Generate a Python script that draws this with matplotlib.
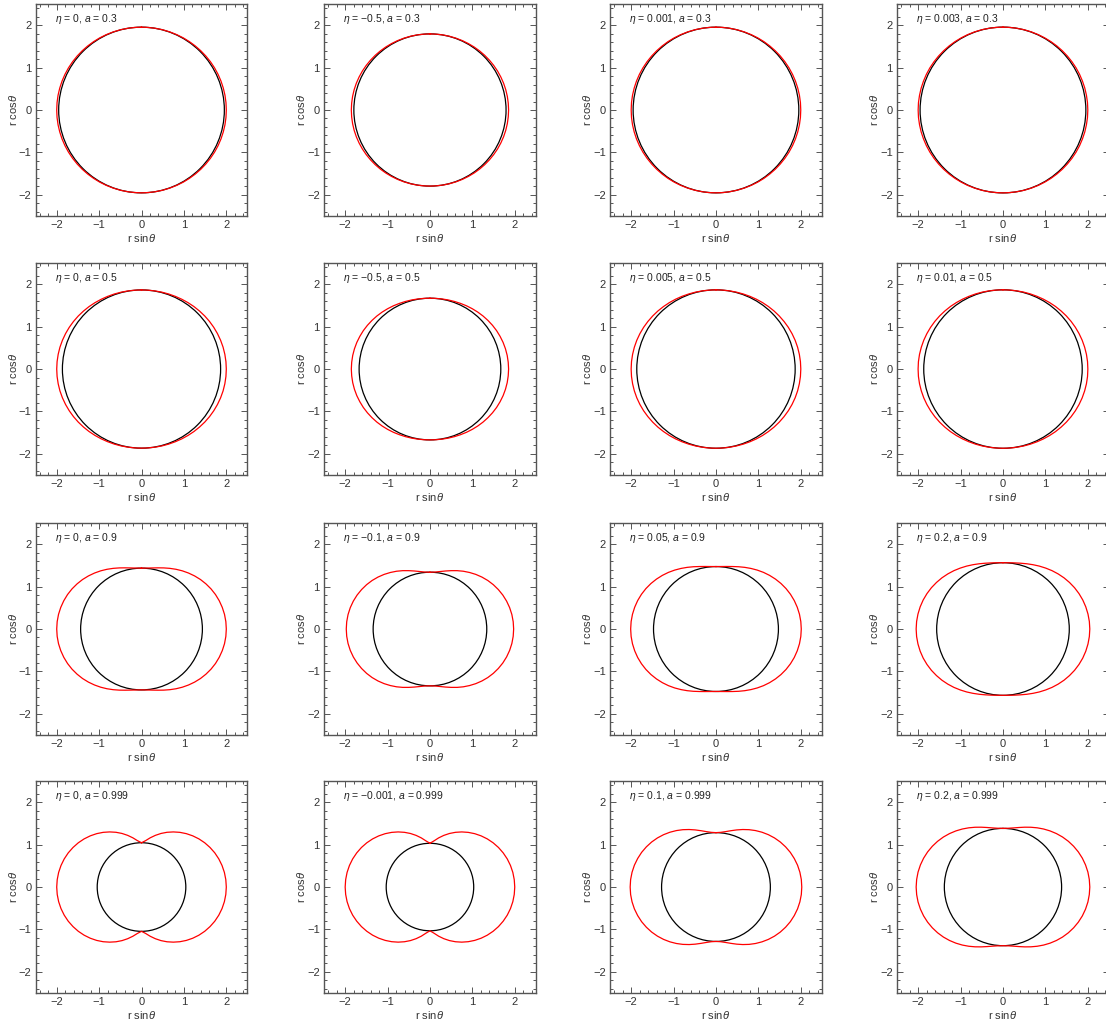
import numpy as np
import matplotlib.pyplot as plt
from matplotlib.patches import Circle
from matplotlib.ticker import MultipleLocator

plt.rcParams['font.family'] = ['Liberation Sans', 'DejaVu Sans']
plt.rcParams['mathtext.fontset'] = 'custom'
plt.rcParams['mathtext.rm'] = 'Liberation Sans'
plt.rcParams['mathtext.it'] = 'Liberation Sans:italic'

# panel parameters, row by row
ETA = ['0', '-0.5', '0.001', '0.003',
       '0', '-0.5', '0.005', '0.01',
       '0', '-0.1', '0.05', '0.2',
       '0', '-0.001', '0.1', '0.2']
SPIN = ['0.3', '0.3', '0.3', '0.3',
        '0.5', '0.5', '0.5', '0.5',
        '0.9', '0.9', '0.9', '0.9',
        '0.999', '0.999', '0.999', '0.999']

# horizon radius (black circle)
HORIZON = [1.954, 1.795, 1.954, 1.955,
           1.866, 1.671, 1.868, 1.869,
           1.436, 1.340, 1.473, 1.564,
           1.045, 1.032, 1.283, 1.383]

# static limit radius (red) at polar angle theta, from pole (0) to equator (90)
THETA_DEG = [0, 5, 10, 15, 20, 25, 30, 35, 40, 45, 50, 55, 60, 65, 70, 75, 80, 85, 90]
ERGO = [
    [1.954, 1.954, 1.955, 1.957, 1.959, 1.962, 1.966, 1.969, 1.973, 1.977,
     1.981, 1.985, 1.989, 1.992, 1.995, 1.997, 1.999, 2.000, 2.000],
    [1.795, 1.795, 1.797, 1.799, 1.802, 1.806, 1.810, 1.815, 1.820, 1.825,
     1.830, 1.835, 1.840, 1.844, 1.848, 1.851, 1.853, 1.854, 1.855],
    [1.954, 1.955, 1.955, 1.957, 1.959, 1.962, 1.966, 1.970, 1.973, 1.977,
     1.981, 1.985, 1.989, 1.992, 1.995, 1.997, 1.999, 2.000, 2.000],
    [1.955, 1.955, 1.956, 1.958, 1.960, 1.963, 1.966, 1.970, 1.974, 1.978,
     1.982, 1.986, 1.990, 1.993, 1.995, 1.998, 1.999, 2.001, 2.001],
    [1.866, 1.867, 1.870, 1.876, 1.883, 1.891, 1.901, 1.912, 1.924, 1.935,
     1.947, 1.958, 1.968, 1.977, 1.985, 1.992, 1.996, 1.999, 2.000],
    [1.671, 1.673, 1.678, 1.686, 1.696, 1.708, 1.723, 1.738, 1.754, 1.770,
     1.785, 1.800, 1.814, 1.825, 1.836, 1.844, 1.850, 1.853, 1.855],
    [1.868, 1.869, 1.872, 1.877, 1.884, 1.893, 1.903, 1.914, 1.925, 1.937,
     1.948, 1.959, 1.970, 1.979, 1.987, 1.993, 1.997, 2.000, 2.001],
    [1.869, 1.870, 1.873, 1.879, 1.886, 1.894, 1.904, 1.915, 1.927, 1.938,
     1.950, 1.961, 1.971, 1.980, 1.988, 1.994, 1.999, 2.002, 2.002],
    [1.436, 1.443, 1.463, 1.494, 1.534, 1.579, 1.627, 1.676, 1.724, 1.771,
     1.816, 1.856, 1.893, 1.925, 1.951, 1.972, 1.988, 1.997, 2.000],
    [1.340, 1.349, 1.377, 1.417, 1.465, 1.519, 1.574, 1.628, 1.682, 1.733,
     1.781, 1.824, 1.862, 1.896, 1.924, 1.946, 1.962, 1.971, 1.974],
    [1.473, 1.480, 1.498, 1.526, 1.563, 1.605, 1.650, 1.697, 1.744, 1.789,
     1.832, 1.872, 1.908, 1.939, 1.965, 1.985, 2.000, 2.009, 2.012],
    [1.564, 1.569, 1.584, 1.607, 1.638, 1.674, 1.714, 1.755, 1.798, 1.839,
     1.879, 1.915, 1.949, 1.978, 2.003, 2.022, 2.036, 2.045, 2.048],
    [1.045, 1.098, 1.179, 1.262, 1.345, 1.425, 1.501, 1.575, 1.644, 1.708,
     1.767, 1.820, 1.866, 1.907, 1.940, 1.966, 1.985, 1.996, 2.000],
    [1.032, 1.093, 1.177, 1.261, 1.344, 1.424, 1.501, 1.574, 1.643, 1.707,
     1.766, 1.819, 1.866, 1.906, 1.940, 1.966, 1.985, 1.996, 2.000],
    [1.283, 1.295, 1.328, 1.376, 1.434, 1.497, 1.562, 1.626, 1.688, 1.747,
     1.802, 1.852, 1.896, 1.935, 1.966, 1.992, 2.010, 2.021, 2.024],
    [1.383, 1.392, 1.416, 1.454, 1.502, 1.556, 1.613, 1.671, 1.728, 1.783,
     1.835, 1.882, 1.924, 1.961, 1.992, 2.016, 2.034, 2.044, 2.048],
]

lefts = [0.0321, 0.2929, 0.5515, 0.8110]
bottoms = [0.7903, 0.5388, 0.2864, 0.0359]
w, h = 0.1917, 0.2058
frame_col = '#555555'
text_col = '#333333'


def full_curve(theta_deg, r):
    # mirror the quarter (pole -> equator) to all four quadrants
    th = np.array(theta_deg, dtype=float)
    r = np.array(r)
    th_all = np.concatenate([th, 180 - th[::-1][1:], 180 + th[1:], 360 - th[::-1][1:]])
    r_all = np.concatenate([r, r[::-1][1:], r[1:], r[::-1][1:]])
    t = np.radians(th_all)
    return r_all * np.sin(t), r_all * np.cos(t)


fig = plt.figure(figsize=(11.06, 10.30), dpi=100)

for i in range(16):
    row, col = divmod(i, 4)
    ax = fig.add_axes([lefts[col], bottoms[row], w, h])

    x, y = full_curve(THETA_DEG, ERGO[i])
    ax.plot(x, y, color='#ff0000', lw=0.9, solid_joinstyle='round')
    ax.add_patch(Circle((0, 0), HORIZON[i], fill=False, ec='black', lw=0.9))

    ax.set_xlim(-2.5, 2.5)
    ax.set_ylim(-2.5, 2.5)
    ax.set_aspect('equal')
    ax.xaxis.set_major_locator(MultipleLocator(1))
    ax.yaxis.set_major_locator(MultipleLocator(1))
    ax.xaxis.set_minor_locator(MultipleLocator(0.2))
    ax.yaxis.set_minor_locator(MultipleLocator(0.2))
    ax.tick_params(which='both', direction='in', top=True, right=True,
                   color=frame_col, width=0.7, labelsize=8, labelcolor=text_col, pad=3)
    ax.tick_params(which='major', length=4)
    ax.tick_params(which='minor', length=2)
    for s in ax.spines.values():
        s.set_color(frame_col)
        s.set_linewidth(1.0)

    ax.set_xlabel(r'r sin$\it{\theta}$', fontsize=8, color=text_col, labelpad=1)
    ax.set_ylabel(r'r cos$\it{\theta}$', fontsize=8, color=text_col, labelpad=0)

    eta = ETA[i].replace('-', '\u2212')
    ax.text(-2.05, 2.15, r'$\it{\eta}$ = ' + eta + r', $\it{a}$ = ' + SPIN[i],
            fontsize=7.5, color='#222222', va='center', ha='left')

fig.savefig('out.png', dpi=100)
